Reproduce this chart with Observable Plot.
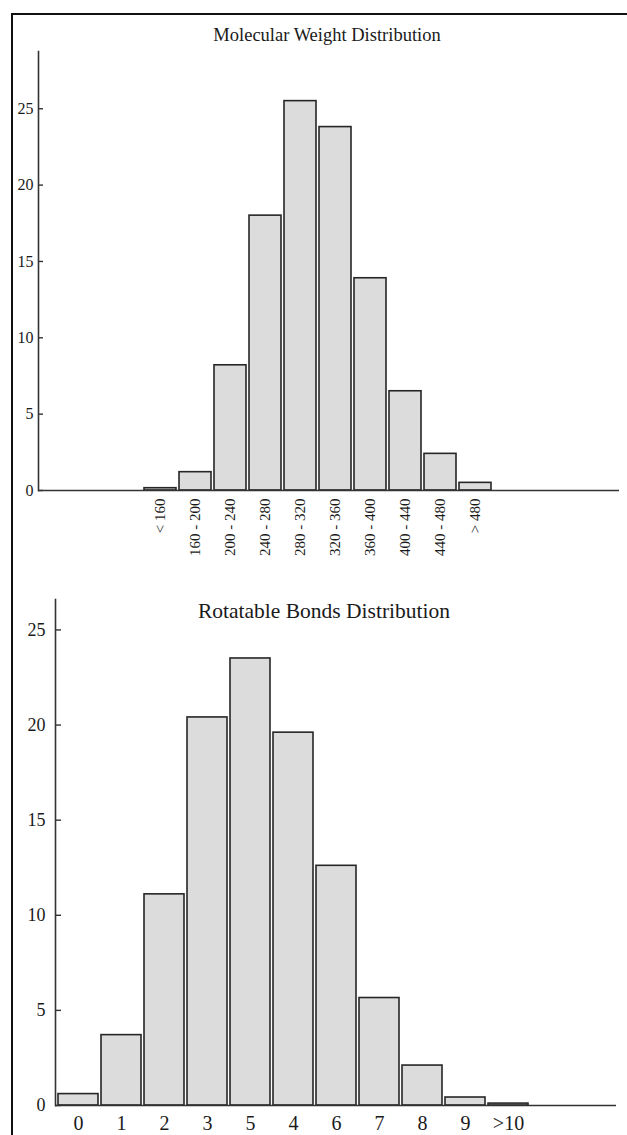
<!DOCTYPE html>
<html>
<head>
<meta charset="utf-8">
<script src="https://cdn.jsdelivr.net/npm/d3@7"></script>
<script src="https://cdn.jsdelivr.net/npm/@observablehq/plot@0.6"></script>
<style>
  html, body { margin: 0; padding: 0; background: #fff; overflow: hidden; }
  body { width: 627px; height: 1135px; position: relative; font-family: "Liberation Serif", "Times New Roman", serif; color: #1a1a1a; }
  #border { position: absolute; left: 11px; top: 13px; width: 700px; height: 1200px; border: 2px solid #111; box-sizing: border-box; }
  .chart { position: absolute; left: 0; }
  .title { position: absolute; white-space: nowrap; transform: translateX(-50%); line-height: 1; color: #1a1a1a; }
</style>
</head>
<body>
<div id="border"></div>
<div id="t1" class="title" style="left:327px; top:26px; font-size:18.5px;">Molecular Weight Distribution</div>
<div id="c1" class="chart" style="top:0px;"></div>
<div id="t2" class="title" style="left:324px; top:601px; font-size:21.5px;">Rotatable Bonds Distribution</div>
<div id="c2" class="chart" style="top:580px;"></div>
<script>
// ---- data ----
const mwCategories = ["< 160", "160 - 200", "200 - 240", "240 - 280", "280 - 320", "320 - 360", "360 - 400", "400 - 440", "440 - 480", "> 480"];
const mwValues = [0.15, 1.2, 8.2, 18.0, 25.5, 23.8, 13.9, 6.5, 2.4, 0.5];
const mwTicks = [0, 5, 10, 15, 20, 25];

const rbCategories = ["0", "1", "2", "3", "5", "4", "6", "7", "8", "9", ">10"];
const rbValues = [0.6, 3.7, 11.1, 20.4, 23.5, 19.6, 12.6, 5.65, 2.1, 0.42, 0.1];
const rbTicks = [0, 5, 10, 15, 20, 25];

const serif = '"Liberation Serif", "Times New Roman", serif';
const ink = "#1a1a1a";

function histogram(cats, vals, ticks, o) {
  const data = cats.map((c, i) => ({cat: c, value: vals[i]}));
  const frameW = o.width - o.ml - o.mr;
  return Plot.plot({
    width: o.width,
    height: o.height,
    marginTop: o.mt,
    marginBottom: o.mb,
    marginLeft: o.ml,
    marginRight: o.mr,
    style: {fontFamily: serif, fontSize: o.yFont + "px", color: ink, background: "transparent", overflow: "visible"},
    x: {type: "band", domain: cats, range: o.xrange, paddingInner: 0.08, paddingOuter: 0.04},
    y: {domain: [0, o.ymax]},
    marks: [
      Plot.barY(data, {x: "cat", y: "value", fill: "#dcdcdc", stroke: "#262626", strokeWidth: 1.6}),
      Plot.ruleY([0], {stroke: "#333", strokeWidth: 1.6}),
      Plot.frame({anchor: "left", stroke: "#333", strokeWidth: 1.6}),
      Plot.tickY(ticks, {y: d => d, stroke: "#333", strokeWidth: 1.4, insetRight: frameW - o.tickLen}),
      Plot.axisY(ticks, {tickSize: 0, tickPadding: o.yPad, fontSize: o.yFont, fill: ink, label: null}),
      Plot.axisX({tickSize: 0, tickPadding: o.xPad, tickRotate: o.rotate, fontSize: o.xFont, fill: ink, label: null})
    ]
  });
}

document.getElementById("c1").append(histogram(mwCategories, mwValues, mwTicks, {
  width: 627, height: 560, mt: 51, mb: 70, ml: 38, mr: 8,
  xrange: [142, 492.6], ymax: 28.75,
  yFont: 16, xFont: 15, tickLen: 5, yPad: 5, xPad: 8, rotate: -90
}));

document.getElementById("c2").append(histogram(rbCategories, rbValues, rbTicks, {
  width: 627, height: 555, mt: 19, mb: 30, ml: 55, mr: 11,
  xrange: [53.25, 531.75], ymax: 26.6,
  yFont: 18, xFont: 20, tickLen: 6, yPad: 10, xPad: 10, rotate: 0
}));
</script>
</body>
</html>
